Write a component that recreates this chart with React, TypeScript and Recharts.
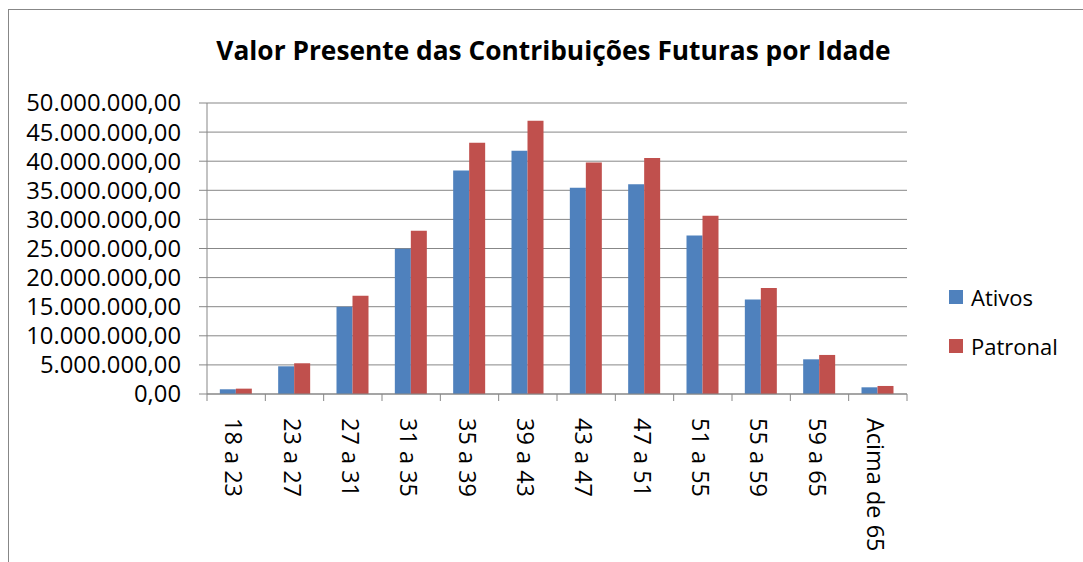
import React from 'react';
import { BarChart, Bar, XAxis, YAxis, CartesianGrid, Legend } from 'recharts';

const faixas = ['18 a 23', '23 a 27', '27 a 31', '31 a 35', '35 a 39', '39 a 43', '43 a 47', '47 a 51', '51 a 55', '55 a 59', '59 a 65', 'Acima de 65'];
const ativos = [810000, 4760000, 15000000, 24940000, 38400000, 41800000, 35430000, 36060000, 27230000, 16220000, 5960000, 1150000];
const patronal = [920000, 5280000, 16900000, 28040000, 43170000, 46960000, 39790000, 40530000, 30620000, 18230000, 6710000, 1380000];
const yTicks = [0, 5000000, 10000000, 15000000, 20000000, 25000000, 30000000, 35000000, 40000000, 45000000, 50000000];
const series = ['Ativos', 'Patronal'];
const seriesColors = ['#4F81BD', '#C0504D'];

const FONT = '"Open Sans", "Liberation Sans", sans-serif';
const GRAY = '#878787';
const PLOT_W = 700;

const data = faixas.map((faixa, i) => ({ faixa, Ativos: ativos[i], Patronal: patronal[i] }));

// 50000000 -> "50.000.000,00"
const formatBR = (v: number) => {
  const [int, dec] = v.toFixed(2).split('.');
  return int.replace(/\B(?=(\d{3})+(?!\d))/g, '.') + ',' + dec;
};

// rotated label + tick marks on the category boundaries (excel style)
const RotatedTick = (props: any) => {
  const { x, y, payload, index } = props;
  const band = PLOT_W / faixas.length;
  const base = y - 8; // axis line
  return (
    <g>
      <line x1={x - band / 2} x2={x - band / 2} y1={base} y2={base + 7} stroke={GRAY} />
      {index === faixas.length - 1 && (
        <line x1={x + band / 2} x2={x + band / 2} y1={base} y2={base + 7} stroke={GRAY} />
      )}
      <text
        transform={`translate(${x - 11},${y + 16}) rotate(90)`}
        textAnchor="start"
        fontFamily={FONT}
        fontSize={23.5}
        fill="#000"
      >
        {payload.value}
      </text>
    </g>
  );
};

const LegendBox = () => (
  <div style={{ fontFamily: FONT, fontSize: 22, color: '#000', whiteSpace: 'nowrap' }}>
    {series.map((s, i) => (
      <div key={s} style={{ display: 'flex', alignItems: 'center', height: 49 }}>
        <div style={{ width: 14, height: 14, background: seriesColors[i], marginRight: 8, flex: 'none' }} />
        <span>{s}</span>
      </div>
    ))}
  </div>
);

export default function App() {
  return (
    <div style={{ position: 'fixed', left: 0, top: 0, width: 1083, height: 562, overflow: 'hidden', background: '#fff' }}>
      <div style={{ position: 'absolute', left: 8, top: 9, width: 1200, height: 700, border: `1.5px solid ${GRAY}` }} />
      <div
        style={{
          position: 'absolute', left: 0, top: 31, width: 1107, textAlign: 'center',
          fontFamily: FONT, fontWeight: 700, fontSize: 26.3, color: '#000', lineHeight: '38px',
        }}
      >
        Valor Presente das Contribuições Futuras por Idade
      </div>
      <div style={{ position: 'absolute', left: 0, top: 0 }}>
        <BarChart
          width={1083}
          height={562}
          data={data}
          margin={{ top: 103, right: 176, left: 0, bottom: 0 }}
          barCategoryGap="22%"
          barGap={0}
        >
          <CartesianGrid vertical={false} stroke={GRAY} strokeWidth={1} />
          <XAxis
            dataKey="faixa"
            height={168}
            interval={0}
            tickLine={false}
            tickSize={0}
            tickMargin={8}
            axisLine={{ stroke: GRAY }}
            tick={<RotatedTick />}
          />
          <YAxis
            width={207}
            domain={[0, 50000000]}
            ticks={yTicks}
            interval={0}
            tickFormatter={formatBR}
            tickSize={8}
            tickMargin={18}
            axisLine={{ stroke: GRAY }}
            tickLine={{ stroke: GRAY }}
            tick={{ fontFamily: FONT, fontSize: 23.8, fill: '#000' }}
          />
          <Legend
            content={<LegendBox />}
            wrapperStyle={{ position: 'absolute', left: 949, top: 272, width: 0, height: 0, overflow: 'visible' }}
          />
          {series.map((s, i) => (
            <Bar key={s} dataKey={s} fill={seriesColors[i]} isAnimationActive={false} />
          ))}
        </BarChart>
      </div>
    </div>
  );
}
